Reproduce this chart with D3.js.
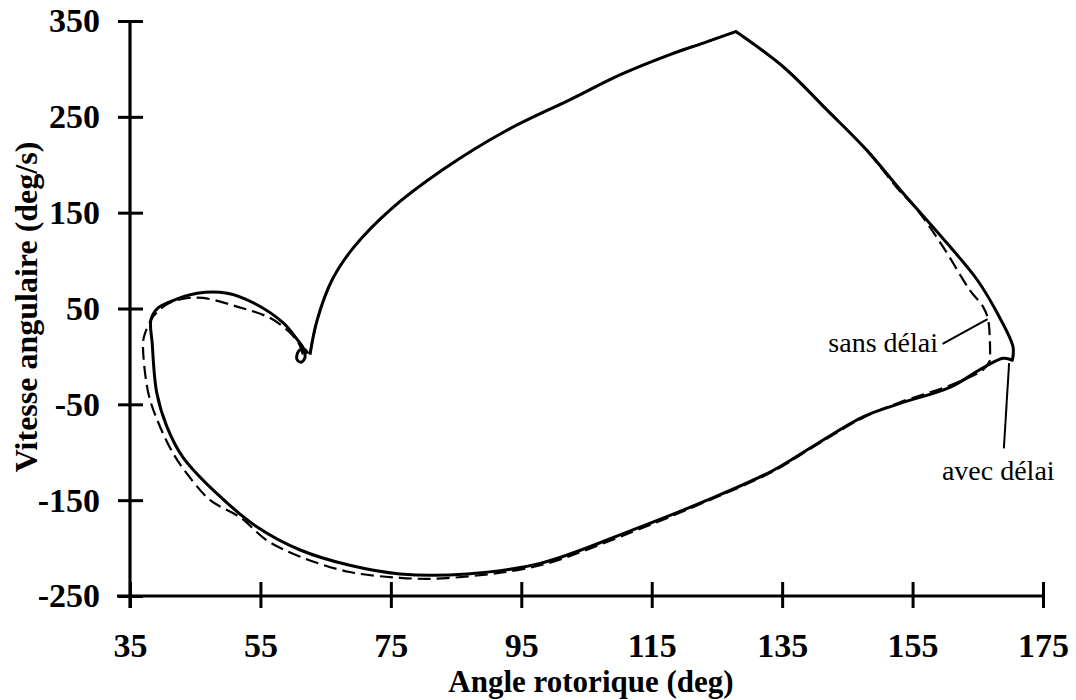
<!DOCTYPE html>
<html>
<head>
<meta charset="utf-8">
<script src="https://cdn.jsdelivr.net/npm/d3@7"></script>
<style>
  html, body { margin: 0; padding: 0; background: #fff; }
  svg { display: block; }
  text { font-family: "Liberation Serif", "Times New Roman", serif; fill: #000; }
</style>
</head>
<body>
<svg id="chart" width="1076" height="700"></svg>
<script>
// ---- data ----
const xTicks = [35, 55, 75, 95, 115, 135, 155, 175];
const yTicks = [-250, -150, -50, 50, 150, 250, 350];
const xTitle = "Angle rotorique (deg)";
const yTitle = "Vitesse angulaire (deg/s)";

// "avec délai" (solid) trajectory : angle (deg), speed (deg/s)
// (corner points are listed twice so that the curve keeps a sharp corner there)
const avecAngle = [62.6, 63.7, 66.0, 69.2, 74.9, 83.0, 92.8, 102.5, 110.2, 117.8, 122.9, 127.9, 127.9,
  135.2, 141.9, 148.0, 153.1, 160.3, 164.9, 168.0, 170.4, 170.3, 170.3,
  168.9, 165.8, 160.8, 153.1, 147.4, 140.6, 133.6, 123.5, 112.1, 97.9, 86.7, 76.4, 68.7, 61.1, 54.5,
  48.3, 43.1, 40.7, 39.1, 38.4, 38.2, 39.2, 41.1, 45.3, 49.9, 53.9, 58.5, 60.6, 61.6, 61.8, 61.2, 60.6, 60.8, 61.6, 62.3];
const avecSpeed = [2, 38, 80, 113, 153, 195, 236, 268, 294, 315, 327, 339, 339,
  302, 257, 215, 174, 118, 80, 45, 10, -4, -4,
  -2, -12, -32, -49, -63, -90, -119, -150, -181, -216, -227, -227, -218, -202, -178,
  -143, -105, -74, -38, 14, 38, 50, 57, 66, 66, 56, 35, 18, 8, -2, -6, -3, 5, 8, 3];

// "sans délai" (dashed) trajectory
const sansAngle = [62.6, 63.7, 66.0, 69.2, 74.9, 83.0, 92.8, 102.5, 110.2, 117.8, 122.9, 127.9, 127.9,
  135.2, 141.9, 148.0, 152.6, 155.7, 159.7, 163.8, 165.8, 166.6, 166.9, 166.9,
  165.8, 160.8, 153.0, 147.4, 140.6, 133.6, 123.5, 112.1, 99.5, 94.4, 89.1, 81.5, 76.4, 68.7, 61.1, 56.0,
  51.9, 47.3, 43.7, 41.6, 39.4, 37.8, 37.0, 37.3, 38.6, 40.6, 43.0, 46.2, 51.4, 56.5, 59.5, 61.0, 61.5];
const sansSpeed = [2, 38, 80, 113, 153, 195, 236, 268, 294, 315, 327, 339, 339,
  302, 257, 215, 176, 153, 114, 69, 52, 38, -4, -4,
  -14, -30, -48, -64, -91, -120, -151, -183, -215, -223, -228, -232, -231, -225, -209, -192,
  -168, -150, -122, -101, -70, -38, 14, 24, 42, 54, 60, 61, 52, 40, 25, 12, 2];

// annotations
const annLabels = ["sans délai", "avec délai"];
const annTextX = [158.9, 159.5];
const annTextY = [4.5, -129];
const annAnchor = ["end", "start"];
const annFromX = [159.6, 169.0];
const annFromY = [13, -96];
const annToX = [166.5, 169.8];
const annToY = [39, -7];

// ---- drawing ----
const svg = d3.select("#chart");
const x = d3.scaleLinear().domain([35, 175]).range([130, 1043]);
const y = d3.scaleLinear().domain([-250, 350]).range([596, 21]);

const line = d3.line().x(d => x(d[0])).y(d => y(d[1])).curve(d3.curveCatmullRom.alpha(0.5));

const avec = avecAngle.map((a, i) => [a, avecSpeed[i]]);
const sans = sansAngle.map((a, i) => [a, sansSpeed[i]]);

svg.append("path").datum(sans).attr("d", line)
  .attr("fill", "none").attr("stroke", "#000").attr("stroke-width", 2.2)
  .attr("stroke-dasharray", "13,6");
svg.append("path").datum(avec).attr("d", line)
  .attr("fill", "none").attr("stroke", "#000").attr("stroke-width", 3)
  .attr("stroke-linejoin", "round");

const fmt = d => String(d);

// axes
const gx = svg.append("g").attr("transform", `translate(0,${y(-250)})`)
  .call(d3.axisBottom(x).tickValues(xTicks).tickFormat(fmt)
    .tickSize(12).tickPadding(25).tickSizeOuter(0));
gx.select(".domain").remove();
gx.selectAll(".tick line").attr("y1", -14).attr("y2", 12).attr("stroke-width", 3);
gx.selectAll(".tick text").attr("font-size", 34).attr("font-weight", "bold")
  .attr("font-family", "Liberation Serif, serif");
gx.append("line").attr("x1", x(35) - 13).attr("x2", x(175)).attr("y1", 0).attr("y2", 0)
  .attr("stroke", "#000").attr("stroke-width", 3.2);

const gy = svg.append("g").attr("transform", `translate(${x(35)},0)`)
  .call(d3.axisLeft(y).tickValues(yTicks).tickFormat(fmt)
    .tickSize(12).tickPadding(18).tickSizeOuter(0));
gy.select(".domain").remove();
gy.selectAll(".tick line").attr("x1", 13).attr("x2", -12).attr("stroke-width", 3);
gy.selectAll(".tick text").attr("font-size", 34).attr("font-weight", "bold")
  .attr("font-family", "Liberation Serif, serif");
gy.append("line").attr("x1", 0).attr("x2", 0).attr("y1", y(350)).attr("y2", y(-250) + 12)
  .attr("stroke", "#000").attr("stroke-width", 3.2);

// titles
svg.append("text").attr("x", 591).attr("y", 692).attr("text-anchor", "middle")
  .attr("font-size", 31).attr("font-weight", "bold").text(xTitle);
svg.append("text").attr("transform", `translate(37,307) rotate(-90)`).attr("text-anchor", "middle")
  .attr("font-size", 32).attr("font-weight", "bold").text(yTitle);

// annotations
annLabels.forEach((t, i) => {
  svg.append("text").attr("x", x(annTextX[i])).attr("y", y(annTextY[i]))
    .attr("text-anchor", annAnchor[i]).attr("font-size", 28).text(t);
  svg.append("line").attr("x1", x(annFromX[i])).attr("y1", y(annFromY[i]))
    .attr("x2", x(annToX[i])).attr("y2", y(annToY[i]))
    .attr("stroke", "#000").attr("stroke-width", 2);
});
</script>
</body>
</html>
